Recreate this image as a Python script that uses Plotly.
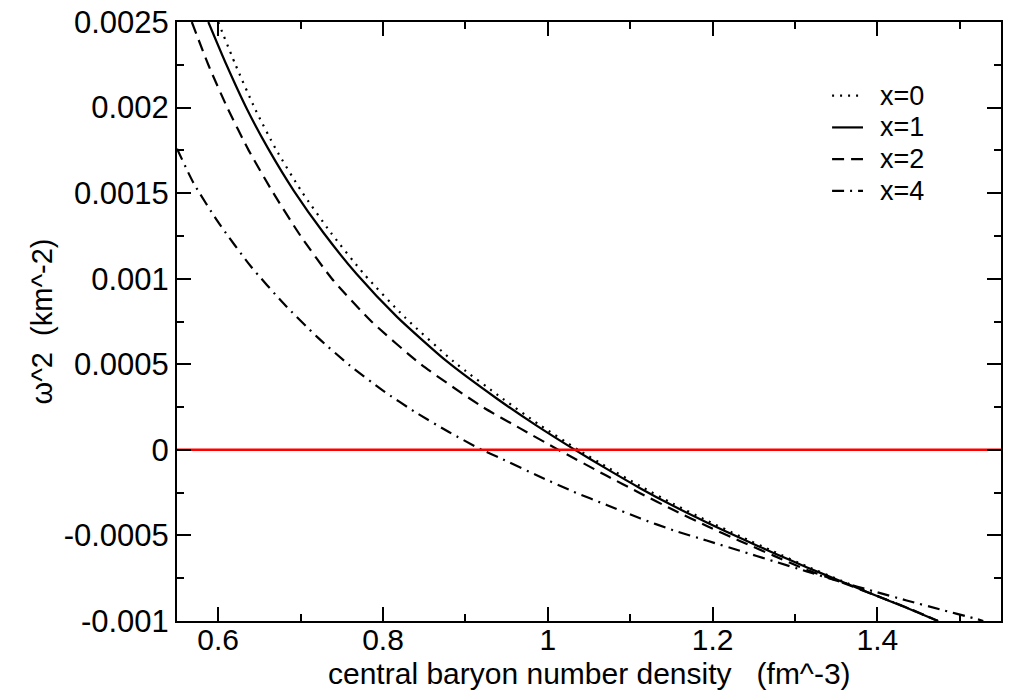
import plotly.graph_objects as go

# ---- data ----
x_x0 = [0.600, 0.621, 0.645, 0.670, 0.701, 0.737, 0.777, 0.826, 0.886, 0.945, 0.990, 1.037,
        1.071, 1.112, 1.152, 1.193, 1.233, 1.274, 1.314, 1.355, 1.395, 1.436, 1.4735]
y_x0 = [0.0025, 0.00225, 0.00199, 0.001757, 0.001512, 0.001267, 0.001027, 0.000777, 0.000515,
        0.0003, 0.000146, 0.0, -0.000098, -0.000211, -0.000315, -0.000413, -0.000504, -0.000594,
        -0.00068, -0.000762, -0.000843, -0.000923, -0.001]

x_x1 = [0.588, 0.61, 0.635, 0.661, 0.692, 0.728, 0.768, 0.817, 0.878, 0.938, 0.985, 1.033,
        1.071, 1.112, 1.152, 1.193, 1.233, 1.274, 1.314, 1.355, 1.395, 1.436, 1.4735]
y_x1 = [0.0025, 0.00225, 0.00199, 0.001757, 0.001512, 0.001267, 0.001027, 0.000777, 0.000515,
        0.0003, 0.000146, 0.0, -0.00011, -0.000224, -0.000327, -0.000424, -0.000514, -0.000602,
        -0.000686, -0.000766, -0.000845, -0.000924, -0.001]

x_x2 = [0.568, 0.588, 0.611, 0.637, 0.667, 0.700, 0.738, 0.786, 0.846, 0.921, 0.967, 1.013,
        1.071, 1.112, 1.152, 1.193, 1.233, 1.274, 1.314, 1.355, 1.395, 1.436, 1.4735]
y_x2 = [0.0025, 0.00225, 0.002, 0.00175, 0.0015, 0.00125, 0.001, 0.00075, 0.0005, 0.00025,
        0.000124, 0.0, -0.00015, -0.000253, -0.00035, -0.000445, -0.000532, -0.000618, -0.0007,
        -0.000772, -0.000845, -0.000922, -0.001]

x_x4 = [0.55, 0.57, 0.60, 0.64, 0.68, 0.72, 0.76, 0.80, 0.84, 0.88, 0.92, 0.942, 0.9905,
        1.031, 1.0714, 1.1119, 1.1523, 1.1928, 1.2332, 1.2737, 1.3141, 1.3546, 1.3951, 1.4355,
        1.476, 1.5164, 1.5285]
y_x4 = [0.00176, 0.00156, 0.00133, 0.00107, 0.000852, 0.00066, 0.000492, 0.000346, 0.000218,
        0.000104, 0.0, -0.000048, -0.000157, -0.000244, -0.000322, -0.0004, -0.00047, -0.00053,
        -0.00059, -0.00065, -0.00071, -0.00077, -0.000826, -0.00088, -0.000932, -0.000983, -0.001]

zero_x = [0.55, 1.55]
zero_y = [0.0, 0.0]

series_names = ["x=0", "x=1", "x=2", "x=4"]
series_dash = ["2px,6px", "solid", "12px,7px", "12px,6px,2px,6px"]

x_tickvals = [0.6, 0.8, 1.0, 1.2, 1.4]
x_ticktext = ["0.6", "0.8", "1", "1.2", "1.4"]
y_tickvals = [0.0025, 0.002, 0.0015, 0.001, 0.0005, 0.0, -0.0005, -0.001]
y_ticktext = ["0.0025", "0.002", "0.0015", "0.001", "0.0005", "0", "-0.0005", "-0.001"]

x_title = "central baryon number density   (fm^-3)"
y_title = "\u03c9^2  (km^-2)"

FONT = "Liberation Sans, Arial, Helvetica, sans-serif"
FS = 31
XFS = 30
TITLE_FS = 30
YTITLE_FS = 29
LEG_FS = 27

fig = go.Figure()
xs = [x_x0, x_x1, x_x2, x_x4]
ys = [y_x0, y_x1, y_x2, y_x4]
for name, xv, yv, dash in zip(series_names, xs, ys, series_dash):
    fig.add_trace(go.Scatter(x=xv, y=yv, mode="lines", name=name,
                             line=dict(color="black", width=2.2, dash=dash,
                                       shape="spline", smoothing=0.6),
                             showlegend=False))

fig.add_trace(go.Scatter(x=zero_x, y=zero_y, mode="lines", name="zero",
                         line=dict(color="#ff0000", width=2.5), showlegend=False))

# manual legend (compact rows like the reference)
leg_x0, leg_x1, leg_tx = 0.795, 0.8325, 0.852
leg_y = [0.877, 0.824, 0.771, 0.718]
for name, dash, ly in zip(series_names, series_dash, leg_y):
    fig.add_shape(type="line", xref="paper", yref="paper", x0=leg_x0, x1=leg_x1, y0=ly, y1=ly,
                  line=dict(color="black", width=2.2, dash=dash))
    fig.add_annotation(xref="paper", yref="paper", x=leg_tx, y=ly, text=name, showarrow=False,
                       xanchor="left", yanchor="middle", height=30, borderpad=0,
                       font=dict(family=FONT, size=LEG_FS, color="black"))

# x-axis title placed just under the tick labels
fig.add_annotation(xref="paper", yref="paper", x=0.5, y=-0.088, text=x_title, showarrow=False,
                   xanchor="center", yanchor="middle",
                   font=dict(family=FONT, size=TITLE_FS, color="black"))

axis_common = dict(showgrid=False, zeroline=False, showline=True, linecolor="black", linewidth=2,
                   mirror="ticks", ticks="inside", ticklen=14, tickwidth=2, tickcolor="black",
                   automargin=False)

fig.update_xaxes(range=[0.55, 1.55], tickvals=x_tickvals, ticktext=x_ticktext,
                 tickfont=dict(family=FONT, size=XFS, color="black"), ticklabelstandoff=-9,
                 minor=dict(dtick=0.1, tick0=0.5, ticks="inside", ticklen=7, tickwidth=2,
                            tickcolor="black", showgrid=False),
                 **axis_common)
fig.update_yaxes(range=[-0.001, 0.0025], tickvals=y_tickvals, ticktext=y_ticktext,
                 tickfont=dict(family=FONT, size=FS, color="black"),
                 minor=dict(dtick=0.00025, tick0=0, ticks="inside", ticklen=7, tickwidth=2,
                            tickcolor="black", showgrid=False),
                 title=dict(text=y_title,
                            font=dict(family=FONT, size=YTITLE_FS, color="black"), standoff=3),
                 **axis_common)

fig.update_layout(width=1011, height=691, margin=dict(l=177, r=10, t=22, b=70),
                  paper_bgcolor="white", plot_bgcolor="white",
                  font=dict(family=FONT, size=FS, color="black"))

fig.write_html("out.html", config={"displayModeBar": False},
               post_script="document.body.style.margin='0';document.body.style.overflow='hidden';")
